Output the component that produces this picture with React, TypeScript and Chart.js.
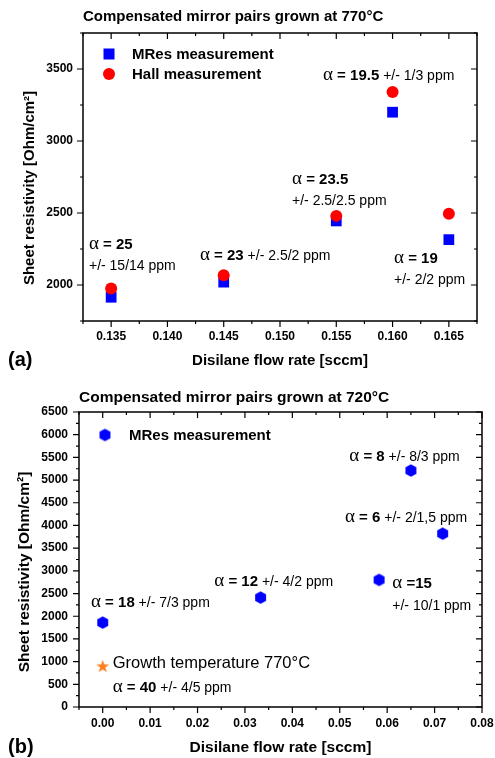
import React, { useEffect, useRef } from 'react';
import { Chart, registerables } from 'chart.js';

Chart.register(...registerables);

const SANS = "'Liberation Sans', Arial, sans-serif";
const SERIF = "'Liberation Serif', 'Times New Roman', serif";

// ---------- Panel (a) data ----------
const flowA = [0.135, 0.145, 0.155, 0.16, 0.165];
const mresA = [1915, 2020, 2445, 3200, 2315];
const hallA = [1975, 2067, 2480, 3340, 2495];
const xTicksA = [0.135, 0.14, 0.145, 0.15, 0.155, 0.16, 0.165];
const yTicksA = [2000, 2500, 3000, 3500];
const alphaA = ['25', '23', '23.5', '19.5', '19'];
const errA = ['+/- 15/14 ppm', '+/- 2.5/2 ppm', '+/- 2.5/2.5 ppm', '+/- 1/3 ppm', '+/- 2/2 ppm'];

// ---------- Panel (b) data ----------
const flowB = [0.0, 0.0333, 0.0583, 0.065, 0.0717];
const mresB = [1860, 2410, 2800, 5210, 3820];
const refFlowB = [0.0];
const refResB = [900];
const xTicksB = [0, 0.01, 0.02, 0.03, 0.04, 0.05, 0.06, 0.07, 0.08];
const yTicksB = [0, 500, 1000, 1500, 2000, 2500, 3000, 3500, 4000, 4500, 5000, 5500, 6000, 6500];
const alphaB = ['18', '12', '15', '8', '6'];
const errB = ['+/- 7/3 ppm', '+/- 4/2 ppm', '+/- 10/1 ppm', '+/- 8/3 ppm', '+/- 2/1,5 ppm'];
const refAlphaB = '40';
const refErrB = '+/- 4/5 ppm';
const refTextB = 'Growth temperature 770°C';

// ---------- annotation placement (data units) ----------
const annotA = [
  { x: 0.13303, y: 2285, wrap: true, eq: ' = ' },
  { x: 0.14289, y: 2208, wrap: false, eq: ' = ' },
  { x: 0.15107, y: 2736, wrap: true, eq: ' = ' },
  { x: 0.15382, y: 3458, wrap: false, eq: ' = ' },
  { x: 0.16013, y: 2188, wrap: true, eq: ' = ' },
];
const annotB = [
  { x: -0.00247, y: 2306, wrap: false, eq: ' = ' },
  { x: 0.02354, y: 2776, wrap: false, eq: ' = ' },
  { x: 0.06108, y: 2725, wrap: true, eq: ' =' },
  { x: 0.05201, y: 5530, wrap: false, eq: ' = ' },
  { x: 0.0511, y: 4193, wrap: false, eq: ' = ' },
];
const refAnnotB = { x: 0.00211, y: 434 };
const refTextPosB = { x: 0.00211, y: 963 };

const BLUE = '#0000FF';
const RED = '#FF0000';
const ORANGE = '#FF8022';

const F_ALPHA = `19px ${SERIF}`;
const F_BOLD = `bold 15px ${SANS}`;
const F_REG = `14px ${SANS}`;

function makeHex(r: number, color: string) {
  const c = document.createElement('canvas');
  const s = Math.ceil(2 * r + 2);
  c.width = s;
  c.height = s;
  const g = c.getContext('2d')!;
  g.fillStyle = color;
  g.beginPath();
  for (let k = 0; k < 6; k++) {
    const a = -Math.PI / 2 + (k * Math.PI) / 3;
    g.lineTo(s / 2 + r * Math.cos(a), s / 2 + r * Math.sin(a));
  }
  g.closePath();
  g.fill();
  return c;
}

function makeStar(ro: number, ri: number, color: string) {
  const c = document.createElement('canvas');
  const s = Math.ceil(2 * ro + 2);
  c.width = s;
  c.height = s;
  const g = c.getContext('2d')!;
  g.fillStyle = color;
  g.beginPath();
  for (let k = 0; k < 10; k++) {
    const a = -Math.PI / 2 + (k * Math.PI) / 5;
    const r = k % 2 === 0 ? ro : ri;
    g.lineTo(s / 2 + r * Math.cos(a), s / 2 + 0.5 + r * Math.sin(a));
  }
  g.closePath();
  g.fill();
  return c;
}

function drawRich(ctx: CanvasRenderingContext2D, x: number, yMid: number, segs: { t: string; f: string }[]) {
  let cx = x;
  ctx.textAlign = 'left';
  ctx.textBaseline = 'alphabetic';
  ctx.fillStyle = '#000';
  for (const s of segs) {
    ctx.font = s.f;
    ctx.fillText(s.t, cx, yMid + 5);
    cx += ctx.measureText(s.t).width;
  }
}

function frameTicks(chart: any, xMajor: number[], yMajor: number[], xMinorStep: number, yMinorStep: number) {
  const ctx = chart.ctx as CanvasRenderingContext2D;
  const { left, right, top, bottom } = chart.chartArea;
  const xs = chart.scales.x;
  const ys = chart.scales.y;
  ctx.save();
  ctx.strokeStyle = '#000';
  ctx.lineWidth = 1.5;
  ctx.strokeRect(left, top, right - left, bottom - top);
  ctx.lineWidth = 1.2;
  const isMajor = (arr: number[], v: number, step: number) => arr.some((m) => Math.abs(m - v) < step * 0.01);
  ctx.beginPath();
  const nx = Math.round((xs.max - xs.min) / xMinorStep);
  for (let i = 0; i <= nx; i++) {
    const v = xs.min + i * xMinorStep;
    const px = xs.getPixelForValue(v);
    const L = isMajor(xMajor, v, xMinorStep) ? 6 : 3;
    ctx.moveTo(px, bottom);
    ctx.lineTo(px, bottom + L);
    ctx.moveTo(px, top);
    ctx.lineTo(px, top + L);
  }
  const ny = Math.round((ys.max - ys.min) / yMinorStep);
  for (let i = 0; i <= ny; i++) {
    const v = ys.min + i * yMinorStep;
    const py = ys.getPixelForValue(v);
    const L = isMajor(yMajor, v, yMinorStep) ? 6 : 3;
    ctx.moveTo(left, py);
    ctx.lineTo(left - L, py);
    ctx.moveTo(right, py);
    ctx.lineTo(right - L, py);
  }
  ctx.stroke();
  ctx.restore();
}

function drawYTitle(ctx: CanvasRenderingContext2D, text: string, x: number, y: number, size: number) {
  ctx.save();
  ctx.translate(x, y);
  ctx.rotate(-Math.PI / 2);
  ctx.font = `bold ${size}px ${SANS}`;
  ctx.fillStyle = '#000';
  ctx.textAlign = 'center';
  ctx.textBaseline = 'middle';
  ctx.fillText(text, 0, 0);
  ctx.restore();
}

function drawPanelLabel(ctx: CanvasRenderingContext2D, text: string, x: number, y: number) {
  ctx.save();
  ctx.font = `bold 20px ${SANS}`;
  ctx.fillStyle = '#000';
  ctx.textAlign = 'left';
  ctx.textBaseline = 'middle';
  ctx.fillText(text, x, y);
  ctx.restore();
}

function baseScales(
  xMin: number, xMax: number, xTicks: number[], xDigits: number, xHeight: number, xPad: number, xTitleSize: number, xTitleBottom: number,
  yMin: number, yMax: number, yTicks: number[], yWidth: number, yPad: number
) {
  return {
    x: {
      type: 'linear',
      min: xMin,
      max: xMax,
      grid: { display: false, drawTicks: false },
      border: { display: false },
      afterBuildTicks: (s: any) => {
        s.ticks = xTicks.map((v) => ({ value: v }));
      },
      afterFit: (s: any) => {
        s.height = xHeight;
        s.paddingLeft = 0;
        s.paddingRight = 0;
      },
      ticks: {
        padding: xPad,
        color: '#000',
        font: { family: SANS, size: 12, weight: 'bold' },
        maxRotation: 0,
        autoSkip: false,
        callback: (v: any) => Number(v).toFixed(xDigits),
      },
      title: {
        display: true,
        text: 'Disilane flow rate [sccm]',
        color: '#000',
        font: { family: SANS, size: xTitleSize, weight: 'bold' },
        padding: { top: 0, bottom: xTitleBottom },
      },
    },
    y: {
      type: 'linear',
      min: yMin,
      max: yMax,
      grid: { display: false, drawTicks: false },
      border: { display: false },
      afterBuildTicks: (s: any) => {
        s.ticks = yTicks.map((v) => ({ value: v }));
      },
      afterFit: (s: any) => {
        s.width = yWidth;
        s.paddingTop = 0;
        s.paddingBottom = 0;
      },
      ticks: {
        padding: yPad,
        color: '#000',
        font: { family: SANS, size: 12, weight: 'bold' },
        autoSkip: false,
        callback: (v: any) => String(Math.round(Number(v))),
      },
    },
  };
}

export default function App() {
  const refA = useRef<HTMLCanvasElement>(null);
  const refB = useRef<HTMLCanvasElement>(null);

  useEffect(() => {
    Chart.defaults.font.family = SANS;
    Chart.defaults.color = '#000';

    const hex = makeHex(6.3, BLUE);
    const star = makeStar(6.8, 2.8, ORANGE);

    // ---------- chart (a) ----------
    const pluginA = {
      id: 'decorA',
      beforeDatasetsDraw(chart: any) {
        frameTicks(chart, xTicksA, yTicksA, 0.0025, 250);
      },
      afterDraw(chart: any) {
        const ctx = chart.ctx as CanvasRenderingContext2D;
        const { left, top } = chart.chartArea;
        const xs = chart.scales.x;
        const ys = chart.scales.y;
        // legend
        ctx.save();
        ctx.fillStyle = BLUE;
        ctx.fillRect(left + 26 - 5.5, top + 21 - 5.5, 11, 11);
        ctx.fillStyle = RED;
        ctx.beginPath();
        ctx.arc(left + 26, top + 41, 6, 0, Math.PI * 2);
        ctx.fill();
        ctx.restore();
        drawRich(ctx, left + 49, top + 21, [{ t: 'MRes measurement', f: F_BOLD }]);
        drawRich(ctx, left + 49, top + 41, [{ t: 'Hall measurement', f: F_BOLD }]);
        // annotations
        annotA.forEach((a, i) => {
          const px = xs.getPixelForValue(a.x);
          const py = ys.getPixelForValue(a.y);
          const head = [
            { t: 'α', f: F_ALPHA },
            { t: a.eq + alphaA[i], f: F_BOLD },
          ];
          if (a.wrap) {
            drawRich(ctx, px, py, head);
            drawRich(ctx, px, py + 21, [{ t: errA[i], f: F_REG }]);
          } else {
            drawRich(ctx, px, py, [...head, { t: ' ' + errA[i], f: F_REG }]);
          }
        });
        drawYTitle(ctx, 'Sheet resistivity [Ohm/cm²]', 30, 188, 15);
        drawPanelLabel(ctx, '(a)', 8, 360);
      },
    };

    const chartA = new Chart(refA.current!, {
      type: 'scatter',
      data: {
        datasets: [
          {
            label: 'MRes measurement',
            data: flowA.map((x, i) => ({ x, y: mresA[i] })),
            pointStyle: 'rect',
            pointRadius: 7.6,
            backgroundColor: BLUE,
            borderColor: BLUE,
            borderWidth: 0,
            order: 2,
          },
          {
            label: 'Hall measurement',
            data: flowA.map((x, i) => ({ x, y: hallA[i] })),
            pointStyle: 'circle',
            pointRadius: 6,
            backgroundColor: RED,
            borderColor: RED,
            borderWidth: 0,
            order: 1,
          },
        ],
      },
      options: {
        responsive: false,
        maintainAspectRatio: false,
        animation: false,
        devicePixelRatio: 1,
        layout: { padding: { left: 0, right: 18, top: 0, bottom: 0 } },
        plugins: {
          legend: { display: false },
          tooltip: { enabled: false },
          title: {
            display: true,
            text: 'Compensated mirror pairs grown at 770°C',
            align: 'start',
            fullSize: false,
            color: '#000',
            font: { family: SANS, size: 15, weight: 'bold' },
            padding: { top: 8, bottom: 7 },
          },
        },
        scales: baseScales(0.1325, 0.1675, xTicksA, 3, 59, 8, 15, 10, 1750, 3750, yTicksA, 83, 10) as any,
      },
      plugins: [pluginA],
    } as any);

    // ---------- chart (b) ----------
    const pluginB = {
      id: 'decorB',
      beforeDatasetsDraw(chart: any) {
        frameTicks(chart, xTicksB, yTicksB, 0.005, 250);
      },
      afterDraw(chart: any) {
        const ctx = chart.ctx as CanvasRenderingContext2D;
        const { left, top } = chart.chartArea;
        const xs = chart.scales.x;
        const ys = chart.scales.y;
        // legend
        ctx.drawImage(hex, left + 26 - hex.width / 2, top + 23 - hex.height / 2);
        drawRich(ctx, left + 50, top + 23, [{ t: 'MRes measurement', f: F_BOLD }]);
        // annotations
        annotB.forEach((a, i) => {
          const px = xs.getPixelForValue(a.x);
          const py = ys.getPixelForValue(a.y);
          const head = [
            { t: 'α', f: F_ALPHA },
            { t: a.eq + alphaB[i], f: F_BOLD },
          ];
          if (a.wrap) {
            drawRich(ctx, px, py, head);
            drawRich(ctx, px, py + 22, [{ t: errB[i], f: F_REG }]);
          } else {
            drawRich(ctx, px, py, [...head, { t: ' ' + errB[i], f: F_REG }]);
          }
        });
        drawRich(ctx, xs.getPixelForValue(refTextPosB.x), ys.getPixelForValue(refTextPosB.y), [
          { t: refTextB, f: `16.5px ${SANS}` },
        ]);
        drawRich(ctx, xs.getPixelForValue(refAnnotB.x), ys.getPixelForValue(refAnnotB.y), [
          { t: 'α', f: F_ALPHA },
          { t: ' = ' + refAlphaB, f: F_BOLD },
          { t: ' ' + refErrB, f: F_REG },
        ]);
        drawYTitle(ctx, 'Sheet resistivity [Ohm/cm²]', 25, 192, 15.5);
        drawPanelLabel(ctx, '(b)', 8, 367);
      },
    };

    const chartB = new Chart(refB.current!, {
      type: 'scatter',
      data: {
        datasets: [
          {
            label: 'MRes measurement',
            data: flowB.map((x, i) => ({ x, y: mresB[i] })),
            pointStyle: hex,
            pointRadius: 6,
            backgroundColor: BLUE,
            borderColor: BLUE,
          },
          {
            label: 'Growth temperature 770°C',
            data: refFlowB.map((x, i) => ({ x, y: refResB[i] })),
            pointStyle: star,
            pointRadius: 7,
            backgroundColor: ORANGE,
            borderColor: ORANGE,
          },
        ],
      },
      options: {
        responsive: false,
        maintainAspectRatio: false,
        animation: false,
        devicePixelRatio: 1,
        layout: { padding: { left: 0, right: 13, top: 0, bottom: 0 } },
        plugins: {
          legend: { display: false },
          tooltip: { enabled: false },
          title: {
            display: true,
            text: 'Compensated mirror pairs grown at 720°C',
            align: 'start',
            fullSize: false,
            color: '#000',
            font: { family: SANS, size: 15.5, weight: 'bold' },
            padding: { top: 8, bottom: 5.4 },
          },
        },
        scales: baseScales(-0.005, 0.08, xTicksB, 2, 51, 9, 15.5, 1, 0, 6500, yTicksB, 79, 11) as any,
      },
      plugins: [pluginB],
    } as any);

    return () => {
      chartA.destroy();
      chartB.destroy();
    };
  }, []);

  return (
    <div style={{ position: 'absolute', left: 0, top: 0, width: 495, height: 758, background: '#fff' }}>
      <canvas ref={refA} width={495} height={380} style={{ position: 'absolute', left: 0, top: 0, width: 495, height: 380 }} />
      <canvas ref={refB} width={495} height={378} style={{ position: 'absolute', left: 0, top: 380, width: 495, height: 378 }} />
    </div>
  );
}
